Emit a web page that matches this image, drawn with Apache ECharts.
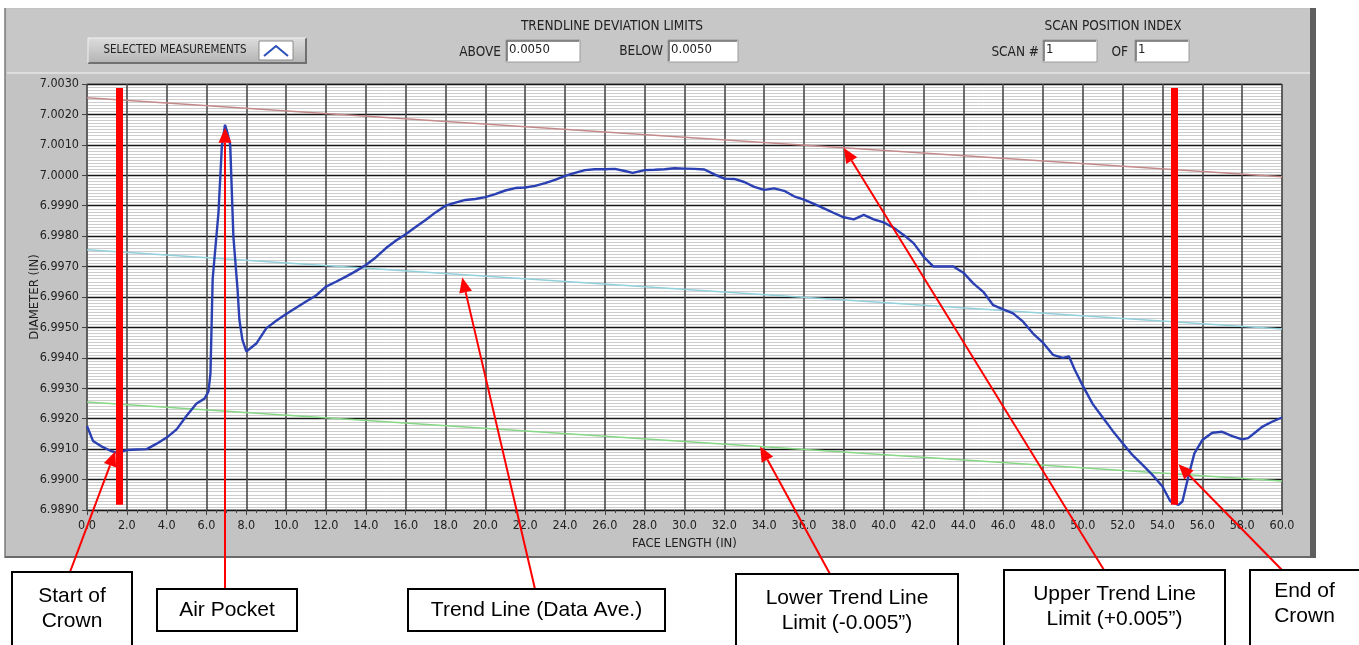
<!DOCTYPE html>
<html>
<head>
<meta charset="utf-8">
<script src="https://cdn.jsdelivr.net/npm/echarts@6/dist/echarts.min.js"></script>
<style>
  html, body { margin: 0; padding: 0; background: #fff; }
  #chart { width: 1359px; height: 645px; }
</style>
</head>
<body>
<div id="chart"></div>
<script>
const faceLength = [0, 0.3, 0.7, 1.2, 1.5, 2.0, 2.5, 3.0, 3.5, 4.0, 4.5, 5.0, 5.5, 5.9, 6.1, 6.2, 6.31, 6.6, 6.77, 6.93,
  7.05, 7.19, 7.35, 7.56, 7.65, 7.8, 8.0, 8.5, 9.0, 9.5, 10.0, 10.5, 11.0, 11.5, 12.0, 12.5, 13.0, 13.5, 14.0, 14.5,
  15.0, 15.5, 16.0, 16.5, 17.0, 17.5, 18.0, 18.5, 19.0, 19.5, 20.0, 20.5, 21.0, 21.5, 22.0, 22.5, 23.0, 23.5, 24.0, 24.5,
  25.0, 25.5, 26.0, 26.5, 27.0, 27.4, 28.0, 28.5, 29.0, 29.5, 30.0, 30.5, 31.0, 31.5, 32.0, 32.5, 33.0, 33.5, 34.0, 34.5,
  35.0, 35.5, 36.0, 36.5, 37.0, 37.5, 38.0, 38.5, 39.0, 39.5, 40.0, 40.5, 41.0, 41.5, 42.0, 42.5, 43.0, 43.5, 44.0, 44.5,
  45.0, 45.5, 46.0, 46.5, 47.0, 47.5, 48.0, 48.5, 49.0, 49.3, 49.6, 50.0, 50.5, 51.0, 51.5, 52.0, 52.5, 53.0, 53.5, 54.0,
  54.4, 54.8, 55.0, 55.3, 55.6, 56.0, 56.5, 57.0, 57.5, 58.0, 58.3, 58.7, 59.0, 59.5, 60.0]
const diameter = [6.99176, 6.99127, 6.99110, 6.99094, 6.99088, 6.99097, 6.99099, 6.99100, 6.99118, 6.99138, 6.99165, 6.99210, 6.99250, 6.99266, 6.99290, 6.99350, 6.99660, 6.99876, 7.00094, 7.00166,
  7.00140, 7.00100, 6.99798, 6.99624, 6.99526, 6.99460, 6.99421, 6.99447, 6.99497, 6.99522, 6.99544, 6.99565, 6.99585, 6.99605, 6.99634, 6.99650, 6.99667, 6.99685, 6.99705, 6.99730,
  6.99760, 6.99785, 6.99806, 6.99830, 6.99853, 6.99878, 6.99900, 6.99910, 6.99919, 6.99922, 6.99928, 6.99938, 6.99950, 6.99958, 6.99960, 6.99965, 6.99974, 6.99985, 6.99998, 7.00008,
  7.00017, 7.00020, 7.00020, 7.00021, 7.00014, 7.00008, 7.00017, 7.00018, 7.00020, 7.00023, 7.00022, 7.00021, 7.00019, 7.00003, 6.99989, 6.99988, 6.99978, 6.99962, 6.99952, 6.99957,
  6.99949, 6.99931, 6.99920, 6.99906, 6.99891, 6.99876, 6.99862, 6.99855, 6.99870, 6.99855, 6.99845, 6.99828, 6.99804, 6.99777, 6.99733, 6.99700, 6.99700, 6.99700, 6.99680, 6.99645,
  6.99617, 6.99573, 6.99559, 6.99546, 6.99519, 6.99480, 6.99450, 6.99410, 6.99400, 6.99405, 6.99360, 6.99308, 6.99248, 6.99204, 6.99160, 6.99119, 6.99080, 6.99048, 6.99015, 6.98977,
  6.98928, 6.98917, 6.98928, 6.99010, 6.99086, 6.99130, 6.99154, 6.99157, 6.99143, 6.99132, 6.99136, 6.99157, 6.99173, 6.99190, 6.99204]

// trend line (data average) at both ends, and the deviation limit
const trendX = [0, 60]
const trendAve = [6.99755, 6.99495]
const deviation = 0.005

// crown markers
const crownStart = 1.6
const crownEnd = 54.6

// callouts: text, box and arrow tip in data units
const callouts = [
  { text: 'Start of\nCrown', box: [12, 572, 120, 80], from: [70, 572], tip: [1.42, 6.99093] },
  { text: 'Air Pocket', box: [157, 589, 140, 42], from: [225, 589], tip: [6.93, 7.00156] },
  { text: 'Trend Line (Data Ave.)', box: [408, 589, 257, 42], from: [535, 589], tip: [18.84, 6.99664] },
  { text: 'Lower Trend Line\nLimit (-0.005\u201d)', box: [736, 574, 222, 80], from: [830, 574], tip: [33.8, 6.99109] },
  { text: 'Upper Trend Line\nLimit (+0.005\u201d)', box: [1004, 570, 221, 80], from: [1104, 570], tip: [38.0, 7.0009] },
  { text: 'End of\nCrown', box: [1250, 570, 120, 80], from: [1282, 570], tip: [54.8, 6.9905] }
]

const uiFont = '"DejaVu Sans Condensed", "Liberation Sans Narrow", "Liberation Sans", sans-serif'
const noteFont = '"Liberation Sans", Arial, sans-serif'

let chart = echarts.init(document.getElementById('chart'))

function pairs (xs, ys) {
  return xs.map((x, i) => [x, ys[i]])
}

function label (x, y, text, align, size) {
  return {
    type: 'text', x: x, y: y, z: 5,
    style: { text: text, fill: '#222', font: (size || 13.5) + 'px ' + uiFont, align: align || 'left', verticalAlign: 'middle' }
  }
}

function field (x, y, w, text) {
  return [
    { type: 'rect', shape: { x: x, y: y, width: w, height: 22 }, z: 4, style: { fill: '#fff', stroke: '#9a9a9a', lineWidth: 1 } },
    { type: 'polyline', shape: { points: [[x + 1, y + 21], [x + 1, y + 1], [x + w - 1, y + 1]] }, z: 4, style: { stroke: '#6a6a6a', lineWidth: 1.5 } },
    label(x + 3, y + 10, text, 'left', 13)
  ]
}

// panel chrome + header controls
let panel = [
  { type: 'rect', shape: { x: 5, y: 8, width: 1310, height: 550 }, z: -10, style: { fill: '#c3c3c3' } },
  { type: 'rect', shape: { x: 7, y: 9, width: 1304, height: 64 }, z: -9, style: { fill: '#c7c7c7' } },
  { type: 'line', shape: { x1: 7, y1: 73, x2: 1311, y2: 73 }, z: -8, style: { stroke: '#e6e6e6', lineWidth: 1.5 } },
  { type: 'line', shape: { x1: 5, y1: 8, x2: 5, y2: 558 }, z: -8, style: { stroke: '#7a7a7a', lineWidth: 1.5 } },
  { type: 'line', shape: { x1: 5, y1: 557, x2: 1316, y2: 557 }, z: -8, style: { stroke: '#6a6a6a', lineWidth: 2 } },
  { type: 'rect', shape: { x: 1310, y: 8, width: 6, height: 550 }, z: -8, style: { fill: '#5f5f5f' } },
  // SELECTED MEASUREMENTS button
  { type: 'rect', shape: { x: 88, y: 38, width: 218, height: 25 }, z: 3,
    style: { fill: new echarts.graphic.LinearGradient(0, 0, 0, 1, [{ offset: 0, color: '#dcdcdc' }, { offset: 1, color: '#b4b4b4' }]) } },
  { type: 'polyline', shape: { points: [[88, 63], [306, 63], [306, 38]] }, z: 3, style: { stroke: '#707070', lineWidth: 2 } },
  { type: 'polyline', shape: { points: [[88, 63], [88, 38], [306, 38]] }, z: 3, style: { stroke: '#f0f0f0', lineWidth: 1 } },
  label(175, 50, 'SELECTED MEASUREMENTS', 'center', 11.5),
  { type: 'rect', shape: { x: 259, y: 41, width: 34, height: 19 }, z: 4, style: { fill: '#fff', stroke: '#8a8a8a' } },
  { type: 'polyline', shape: { points: [[264, 56], [276, 46], [288, 56]] }, z: 5, style: { stroke: '#2d4fb8', lineWidth: 2 } },
  label(612, 26, 'TRENDLINE DEVIATION LIMITS', 'center'),
  label(501, 52, 'ABOVE', 'right'),
  ...field(506, 40, 74, '0.0050'),
  label(663, 51, 'BELOW', 'right'),
  ...field(668, 40, 70, '0.0050'),
  label(1113, 26, 'SCAN POSITION INDEX', 'center'),
  label(1039, 52, 'SCAN #', 'right'),
  ...field(1043, 40, 54, '1'),
  label(1128, 52, 'OF', 'right'),
  ...field(1135, 40, 54, '1')
]

let option = {
  animation: false,
  backgroundColor: '#fff',
  graphic: panel,
  grid: {
    left: 87, right: 77, top: 84, bottom: 135,
    show: true, backgroundColor: '#fff', borderColor: '#7c7c7c', borderWidth: 1
  },
  xAxis: {
    type: 'value',
    min: 0, max: 60, interval: 2,
    name: 'FACE LENGTH (IN)', nameLocation: 'middle', nameGap: 27,
    nameTextStyle: { color: '#222', fontSize: 13, fontFamily: uiFont },
    axisLine: { show: false },
    axisTick: { show: true, length: 5, lineStyle: { color: '#444' } },
    minorTick: { show: true, splitNumber: 4, length: 3, lineStyle: { color: '#444' } },
    axisLabel: { color: '#222', fontSize: 12.5, fontFamily: uiFont, margin: 9, formatter: v => v.toFixed(1) },
    splitLine: { show: true, lineStyle: { color: '#4a4a4a', width: 1.6 } }
  },
  yAxis: {
    type: 'value',
    min: 6.989, max: 7.003, interval: 0.001,
    name: 'DIAMETER (IN)', nameLocation: 'middle', nameGap: 46, nameRotate: 90,
    nameMoveOverlap: false,
    nameTextStyle: { color: '#222', fontSize: 13, fontFamily: uiFont },
    axisLine: { show: false },
    axisTick: { show: true, length: 5, lineStyle: { color: '#444' } },
    axisLabel: { color: '#222', fontSize: 12.5, fontFamily: uiFont, margin: 8, formatter: v => v.toFixed(4) },
    splitLine: { show: true, lineStyle: { color: '#161616', width: 1.4 } },
    minorTick: { show: false, splitNumber: 10 },
    minorSplitLine: { show: true, lineStyle: { color: '#cdcdcd', width: 1 } }
  },
  series: [
    {
      name: 'Upper Limit', type: 'line', symbol: 'none', silent: true, z: 3,
      lineStyle: { color: '#c48a8a', width: 1.5 },
      data: pairs(trendX, trendAve.map(v => v + deviation))
    },
    {
      name: 'Trend', type: 'line', symbol: 'none', silent: true, z: 3,
      lineStyle: { color: '#92d0dc', width: 1.5 },
      data: pairs(trendX, trendAve)
    },
    {
      name: 'Lower Limit', type: 'line', symbol: 'none', silent: true, z: 3,
      lineStyle: { color: '#86d886', width: 1.5 },
      data: pairs(trendX, trendAve.map(v => v - deviation))
    },
    {
      name: 'Diameter', type: 'line', symbol: 'none', z: 4,
      lineStyle: { color: '#2a40b2', width: 2.4 },
      data: pairs(faceLength, diameter)
    },
    {
      name: 'Crown', type: 'line', data: [], z: 6,
      markLine: {
        silent: true, symbol: ['none', 'none'], label: { show: false },
        lineStyle: { color: '#ff0000', width: 7, type: 'solid' },
        data: [
          [{ coord: [crownStart, 7.00287] }, { coord: [crownStart, 6.98917] }],
          [{ coord: [crownEnd, 7.00287] }, { coord: [crownEnd, 6.98917] }]
        ]
      }
    }
  ]
}
chart.setOption(option)

// callout boxes and red arrows, tips placed through the axes
function arrow (from, tip) {
  let dx = tip[0] - from[0], dy = tip[1] - from[1]
  let len = Math.sqrt(dx * dx + dy * dy)
  let ux = dx / len, uy = dy / len
  let head = 15, half = 6.5
  let bx = tip[0] - ux * head, by = tip[1] - uy * head
  return [
    { type: 'line', z: 50, shape: { x1: from[0], y1: from[1], x2: bx, y2: by }, style: { stroke: '#ff0000', lineWidth: 2 } },
    { type: 'polygon', z: 50, shape: { points: [tip, [bx - uy * half, by + ux * half], [bx + uy * half, by - ux * half]] }, style: { fill: '#ff0000' } }
  ]
}

let notes = []
callouts.forEach(c => {
  let tip = chart.convertToPixel({ gridIndex: 0 }, c.tip)
  notes.push(...arrow(c.from, tip))
  notes.push({ type: 'rect', z: 60, shape: { x: c.box[0], y: c.box[1], width: c.box[2], height: c.box[3] }, style: { fill: '#fff', stroke: '#000', lineWidth: 2 } })
  let lines = c.text.split('\n').length
  let cy = lines > 1 ? c.box[1] + 37 : c.box[1] + c.box[3] / 2
  if (c.box[0] + c.box[2] > 1359) cy = c.box[1] + 34
  notes.push({
    type: 'text', z: 61, x: c.box[0] + Math.min(c.box[2], 1359 - c.box[0]) / 2, y: cy,
    style: { text: c.text, fill: '#000', font: '21px ' + noteFont, align: 'center', verticalAlign: 'middle', lineHeight: 25 }
  })
})
chart.setOption({ graphic: panel.concat(notes) })
</script>
</body>
</html>
